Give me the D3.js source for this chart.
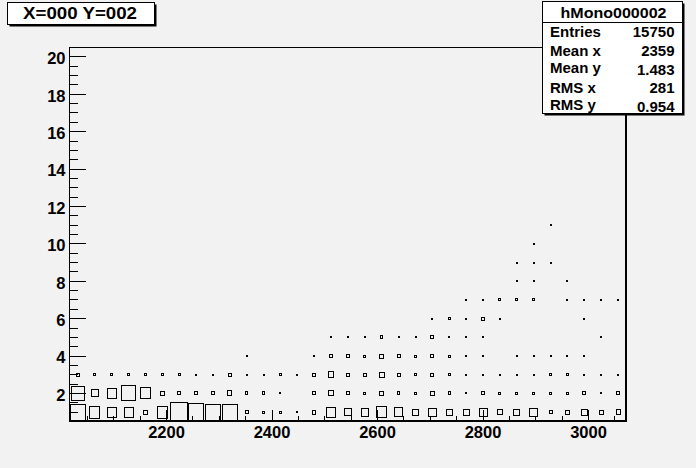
<!DOCTYPE html>
<html><head><meta charset="utf-8">
<script src="https://cdn.jsdelivr.net/npm/d3@7"></script>
<style>
body{margin:0;background:#f2f2f2;}
svg{display:block;}
text{font-family:"Liberation Sans",Arial,Helvetica,sans-serif;font-weight:bold;fill:#000;}
</style>
</head><body>
<svg id="c" width="696" height="468"></svg>
<script>
// ---- histogram definition ----
const xMin = 2016, xMax = 3072, nBinsX = 33;
const yMin = 0.5, yMax = 20.5;

// bin contents, one array per y bin (y = 1 .. 11), 33 x bins each
const y1  = [1046,526,354,370,69,526,1360,1074,1004,1046,43,19,19,5,52,354,208,234,439,306,150,276,150,150,276,101,150,276,43,76,150,62,88];
const y2  = [758,208,354,883,477,62,43,32,43,88,25,25,5,0,32,101,32,19,62,25,19,62,25,2,32,19,12,12,12,19,32,5,32];
const y3  = [32,19,19,19,19,19,19,5,5,43,8,5,19,8,32,134,32,32,101,32,19,32,12,2,5,5,5,5,12,12,8,5,5];
const y4  = [0,0,0,0,0,0,0,0,0,0,3,0,0,0,5,32,32,19,62,32,19,32,19,5,4,0,4,4,4,4,4,0,0];
const y5  = [0,0,0,0,0,0,0,0,0,0,0,0,0,0,0,4,4,4,25,4,8,30,4,4,4,0,0,0,0,0,0,4,0];
const y6  = [0,0,0,0,0,0,0,0,0,0,0,0,0,0,0,0,0,0,0,0,0,6,15,5,45,3,0,0,0,0,3,0,0];
const y7  = [0,0,0,0,0,0,0,0,0,0,0,0,0,0,0,0,0,0,0,0,0,0,0,3,3,15,15,15,0,3,3,3,3];
const y8  = [0,0,0,0,0,0,0,0,0,0,0,0,0,0,0,0,0,0,0,0,0,0,0,0,0,0,3,3,0,3,0,0,0];
const y9  = [0,0,0,0,0,0,0,0,0,0,0,0,0,0,0,0,0,0,0,0,0,0,0,0,0,0,3,5,3,0,0,0,0];
const y10 = [0,0,0,0,0,0,0,0,0,0,0,0,0,0,0,0,0,0,0,0,0,0,0,0,0,0,0,3,0,0,0,0,0];
const y11 = [0,0,0,0,0,0,0,0,0,0,0,0,0,0,0,0,0,0,0,0,0,0,0,0,0,0,0,0,3,0,0,0,0];
const rows = [y1,y2,y3,y4,y5,y6,y7,y8,y9,y10,y11];

const xTickValues = [2200,2400,2600,2800,3000];
const yTickValues = [2,4,6,8,10,12,14,16,18,20];

const titleText = "X=000 Y=002";
const statsName = "hMono000002";
const statsLabels = ["Entries","Mean x","Mean y","RMS x","RMS y"];
const statsValues = ["15750","2359","1.483","281","0.954"];

// ---- drawing ----
const W = 696, H = 468;
const L = 69, R = 626, T = 47, B = 421;
const svg = d3.select("#c");
svg.append("rect").attr("width", W).attr("height", H).attr("fill", "#f2f2f2");

const x = d3.scaleLinear().domain([xMin, xMax]).range([L, R]);
const y = d3.scaleLinear().domain([yMin, yMax]).range([B, T]);
const binW = (xMax - xMin) / nBinsX;

// boxes
const cells = [];
rows.forEach((arr, j) => arr.forEach((v, i) => { if (v > 0) cells.push({i, yv: j + 1, v}); }));
const zmax = d3.max(cells, d => d.v);
const pxW = x(xMin + binW) - x(xMin);
const pxH = y(0) - y(1);
svg.append("g").selectAll("rect").data(cells).join("rect")
  .each(function(d) {
    const r = Math.sqrt(d.v / zmax);
    const cx = x(xMin + binW * (d.i + 0.5));
    const cy = y(d.yv);
    const w = Math.max(1, Math.round(r * pxW));
    const h = Math.max(1, Math.round(r * pxH));
    d3.select(this)
      .attr("x", Math.round(cx - w / 2) + 0.5)
      .attr("y", Math.round(cy - h / 2) + 0.5)
      .attr("width", w).attr("height", h);
  })
  .attr("fill", "none").attr("stroke", "#000").attr("stroke-width", 1)
  .attr("shape-rendering", "crispEdges");

// frame
svg.append("rect").attr("x", L + 0.5).attr("y", T + 0.5)
  .attr("width", R - L - 1).attr("height", B - T - 1)
  .attr("fill", "none").attr("stroke", "#000").attr("shape-rendering", "crispEdges");
svg.append("line").attr("x1", L).attr("x2", R + 1).attr("y1", B).attr("y2", B)
  .attr("stroke", "#000").attr("stroke-width", 2).attr("shape-rendering", "crispEdges");
svg.append("line").attr("x1", R).attr("x2", R).attr("y1", T).attr("y2", B + 1)
  .attr("stroke", "#000").attr("stroke-width", 2).attr("shape-rendering", "crispEdges");

// x axis
const xMinor = d3.range(2050, xMax, 50).filter(v => v % 200 !== 0);
const gxm = svg.append("g").attr("transform", `translate(0,${B})`)
  .call(d3.axisBottom(x).tickValues(xMinor).tickSize(-5.5).tickSizeOuter(0).tickFormat(""));
const gx = svg.append("g").attr("transform", `translate(0,${B})`)
  .call(d3.axisBottom(x).tickValues(xTickValues).tickSize(-11).tickSizeOuter(0).tickPadding(5).tickFormat(d3.format("d")));
[gxm, gx].forEach(g => { g.select(".domain").remove(); g.selectAll("line").attr("stroke", "#000").attr("shape-rendering", "crispEdges"); });
gx.selectAll("text").attr("font-size", 16.5).attr("font-family", null);

// y axis
const yMinor = d3.range(1, yMax + 0.01, 0.5).filter(v => v % 2 !== 0);
const gym = svg.append("g").attr("transform", `translate(${L},0)`)
  .call(d3.axisLeft(y).tickValues(yMinor).tickSize(-8.5).tickSizeOuter(0).tickFormat(""));
const gy = svg.append("g").attr("transform", `translate(${L},0)`)
  .call(d3.axisLeft(y).tickValues(yTickValues).tickSize(-17).tickSizeOuter(0).tickPadding(3.5).tickFormat(d3.format("d")));
[gym, gy].forEach(g => { g.select(".domain").remove(); g.selectAll("line").attr("stroke", "#000").attr("shape-rendering", "crispEdges"); });
gy.selectAll("text").attr("font-size", 16.5).attr("dy", "0.45em").attr("font-family", null);

// title box
svg.append("rect").attr("x", 9.5).attr("y", 4.5).attr("width", 147).attr("height", 22).attr("fill", "#000");
svg.append("rect").attr("x", 7.5).attr("y", 2.5).attr("width", 147).attr("height", 22)
  .attr("fill", "#ffffff").attr("stroke", "#000").attr("shape-rendering", "crispEdges");
svg.append("text").attr("x", 80).attr("y", 19).attr("text-anchor", "middle")
  .attr("font-size", 16.5).attr("textLength", 114).attr("lengthAdjust", "spacingAndGlyphs").text(titleText);

// stats box
const sx = 542.5, sy = 1.5, sw = 140, sh = 112;
svg.append("rect").attr("x", sx + 2).attr("y", sy + 2).attr("width", sw).attr("height", sh).attr("fill", "#000");
svg.append("rect").attr("x", sx).attr("y", sy).attr("width", sw).attr("height", sh)
  .attr("fill", "#ffffff").attr("stroke", "#000").attr("shape-rendering", "crispEdges");
svg.append("line").attr("x1", sx).attr("x2", sx + sw).attr("y1", 22.5).attr("y2", 22.5)
  .attr("stroke", "#000").attr("shape-rendering", "crispEdges");
svg.append("text").attr("x", sx + sw / 2 + 1).attr("y", 17.5).attr("text-anchor", "middle")
  .attr("font-size", 15.5).attr("textLength", 106).attr("lengthAdjust", "spacingAndGlyphs").text(statsName);
statsLabels.forEach((lab, k) => {
  const c = 32 + k * 18.8;
  svg.append("text").attr("x", 550).attr("y", lab.endsWith("y") ? c + 3 : c + 5)
    .attr("font-size", 15).text(lab);
  svg.append("text").attr("x", 674.5).attr("y", c + 5).attr("text-anchor", "end")
    .attr("font-size", 15).text(statsValues[k]);
});
</script>
</body></html>
